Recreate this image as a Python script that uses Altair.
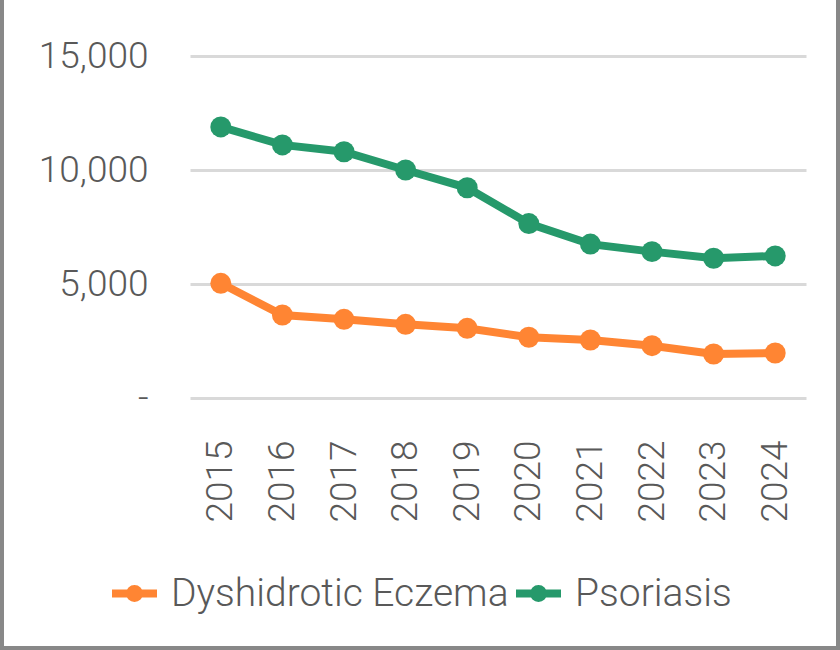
import altair as alt
import pandas as pd

years = ["2015", "2016", "2017", "2018", "2019", "2020", "2021", "2022", "2023", "2024"]
eczema = [5030, 3640, 3450, 3230, 3055, 2665, 2545, 2295, 1930, 1975]
psoriasis = [11890, 11100, 10800, 10000, 9220, 7650, 6750, 6420, 6130, 6230]
series = ["Dyshidrotic Eczema", "Psoriasis"]
colors = ["#FF8533", "#26996B"]

df = pd.DataFrame(
    {
        "Year": years * 2,
        "Cases": eczema + psoriasis,
        "Series": [series[0]] * len(years) + [series[1]] * len(years),
    }
)

FONT = "Roboto"
WEIGHT = 300
TEXT = "#595959"

# line with a dot in the middle, used as the legend swatch
swatch = "M-1,0H1M-0.2,0A0.2,0.2,0,1,1,0.2,0A0.2,0.2,0,1,1,-0.2,0Z"

color = alt.Color(
    "Series:N",
    scale=alt.Scale(domain=series, range=colors),
    legend=alt.Legend(
        title=None,
        orient="none",
        direction="horizontal",
        legendX=-82,
        legendY=511,
        symbolType=swatch,
        symbolSize=2025,
        symbolStrokeWidth=8,
        labelFont=FONT,
        labelFontWeight=WEIGHT,
        labelFontSize=39,
        labelColor=TEXT,
        labelOffset=10,
        columnPadding=-9,
        labelLimit=0,
    ),
)

x = alt.X(
    "Year:N",
    sort=years,
    title=None,
    scale=alt.Scale(paddingInner=0, paddingOuter=0.5),
    axis=alt.Axis(
        labelAngle=-90,
        labelPadding=42,
        labelFont=FONT,
        labelFontWeight=WEIGHT,
        labelFontSize=37,
        labelColor=TEXT,
        domain=False,
        ticks=False,
        grid=False,
    ),
)
y = alt.Y(
    "Cases:Q",
    title=None,
    scale=alt.Scale(domain=[0, 15000], nice=False),
    axis=alt.Axis(
        values=[0, 5000, 10000, 15000],
        labelExpr="datum.value == 0 ? '-' : format(datum.value, ',')",
        labelPadding=42,
        labelFont=FONT,
        labelFontWeight=WEIGHT,
        labelFontSize=37,
        labelColor=TEXT,
        domain=False,
        ticks=False,
        gridColor="#D9D9D9",
        gridWidth=3,
    ),
)

lines = alt.Chart(df).mark_line(strokeWidth=8).encode(x=x, y=y, color=color)
points = alt.Chart(df).mark_point(filled=True, size=440, opacity=1).encode(
    x=x, y=y, color=color
)

# outer frame on the left, right and bottom edges
frame_style = dict(color="#888888", strokeWidth=4)
left_edge = alt.Chart(df).mark_rule(**frame_style).encode(
    x=alt.value(-188), y=alt.value(-56), y2=alt.value(594)
)
right_edge = alt.Chart(df).mark_rule(**frame_style).encode(
    x=alt.value(648), y=alt.value(-56), y2=alt.value(594)
)
bottom_edge = alt.Chart(df).mark_rule(**frame_style).encode(
    x=alt.value(-190), x2=alt.value(650), y=alt.value(592)
)

chart = (
    alt.layer(lines, points, left_edge, right_edge, bottom_edge)
    .properties(
        width=616,
        height=342,
        autosize=alt.AutoSizeParams(type="none"),
        padding={"left": 190, "top": 56, "right": 34, "bottom": 252},
        background="white",
    )
    .configure_view(stroke=None)
)

chart.save("out.html", embed_options={"renderer": "svg", "actions": False})
